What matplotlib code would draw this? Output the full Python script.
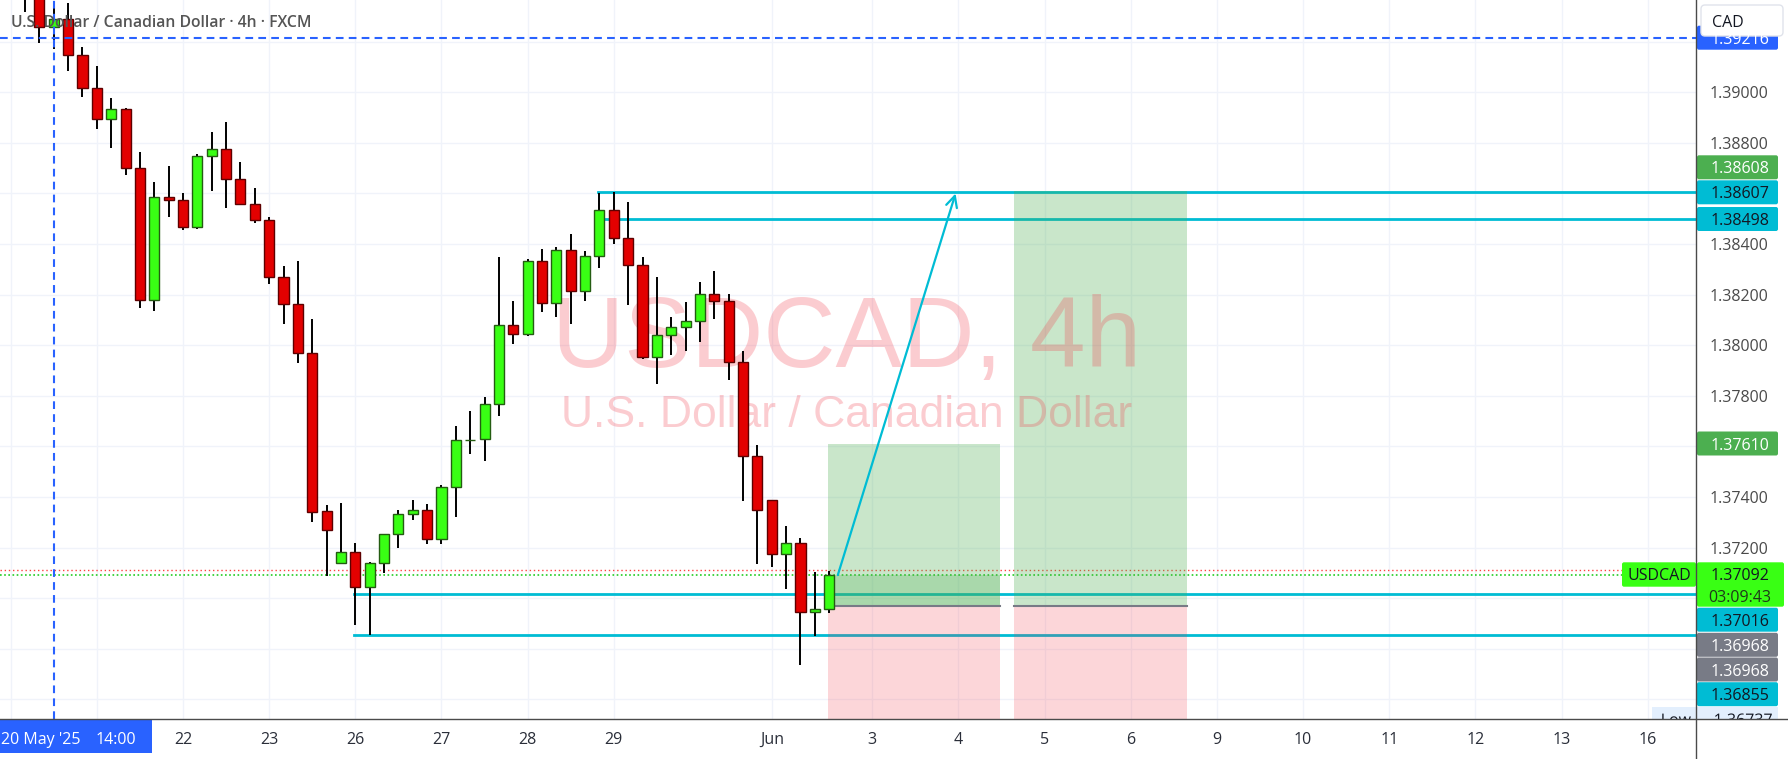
import numpy as np
import matplotlib
matplotlib.use('Agg')
import matplotlib.pyplot as plt
import matplotlib.patches as mpatches
from matplotlib.transforms import Bbox, TransformedBbox, Affine2D
from matplotlib.textpath import TextPath
from matplotlib.font_manager import FontProperties

W, H = 1788, 759
plt.rcParams['font.family'] = ['Open Sans', 'DejaVu Sans']

# 4h bars, index 0 = first bar of 22 May 2025
bars = list(range(-11, 46))
opens = [1.39520, 1.39400, 1.39257, 1.39289, 1.39146, 1.39016, 1.38893, 1.38933, 1.38700, 1.38178,
         1.38585, 1.38573, 1.38466, 1.38747, 1.38775, 1.38658, 1.38557, 1.38494, 1.38269, 1.38162,
         1.37968, 1.37344, 1.37138, 1.37182, 1.37043, 1.37138, 1.37253, 1.37332, 1.37348, 1.37233,
         1.37439, 1.37625, 1.37628, 1.37767, 1.38079, 1.38043, 1.38332, 1.38166, 1.38376, 1.38213,
         1.38352, 1.38534, 1.38423, 1.38316, 1.37953, 1.38040, 1.38071, 1.38095, 1.38202, 1.38174,
         1.37933, 1.37561, 1.37387, 1.37174, 1.37217, 1.36945, 1.36957]
highs = [1.39580, 1.39450, 1.39345, 1.39352, 1.39178, 1.39104, 1.38977, 1.38938, 1.38763, 1.38645,
         1.38709, 1.38601, 1.38756, 1.38843, 1.38883, 1.38724, 1.38622, 1.38506, 1.38313, 1.38333,
         1.38104, 1.37369, 1.37377, 1.37219, 1.37144, 1.37256, 1.37349, 1.37389, 1.37373, 1.37447,
         1.37681, 1.37740, 1.37796, 1.38349, 1.38175, 1.38340, 1.38381, 1.38389, 1.38440, 1.38373,
         1.38600, 1.38607, 1.38566, 1.38349, 1.38270, 1.38113, 1.38171, 1.38250, 1.38294, 1.38202,
         1.37976, 1.37605, 1.37390, 1.37286, 1.37237, 1.37103, 1.37109]
lows = [1.39316, 1.39196, 1.39170, 1.39085, 1.38983, 1.38855, 1.38781, 1.38674, 1.38149, 1.38137,
        1.38508, 1.38457, 1.38461, 1.38611, 1.38544, 1.38553, 1.38485, 1.38243, 1.38085, 1.37931,
        1.37303, 1.37089, 1.37136, 1.36894, 1.36856, 1.37101, 1.37197, 1.37311, 1.37216, 1.37216,
        1.37322, 1.37572, 1.37544, 1.37722, 1.38006, 1.38038, 1.38133, 1.38113, 1.38085, 1.38176,
        1.38307, 1.38402, 1.38160, 1.37946, 1.37846, 1.37963, 1.37979, 1.38014, 1.38105, 1.37862,
        1.37386, 1.37137, 1.37125, 1.37038, 1.36737, 1.36852, 1.36941]
closes = [1.39400, 1.39257, 1.39289, 1.39146, 1.39016, 1.38893, 1.38933, 1.38700, 1.38178, 1.38585,
          1.38573, 1.38466, 1.38747, 1.38775, 1.38658, 1.38557, 1.38494, 1.38269, 1.38162, 1.37968,
          1.37342, 1.37269, 1.37182, 1.37043, 1.37138, 1.37253, 1.37332, 1.37348, 1.37233, 1.37439,
          1.37625, 1.37627, 1.37767, 1.38079, 1.38043, 1.38332, 1.38166, 1.38376, 1.38213, 1.38352,
          1.38534, 1.38423, 1.38316, 1.37953, 1.38040, 1.38071, 1.38095, 1.38202, 1.38174, 1.37933,
          1.37561, 1.37348, 1.37174, 1.37217, 1.36945, 1.36957, 1.37092]

day_ticks = [0, 6, 12, 18, 24, 30, 41, 48, 54, 60, 66, 72, 78, 84, 90, 96, 102]
day_labels = ['22', '23', '26', '27', '28', '29', 'Jun', '3', '4', '5', '6', '9', '10', '11', '12', '13', '16']
day_grid = [-12, -6] + day_ticks
price_ticks = [1.39, 1.388, 1.384, 1.382, 1.38, 1.378, 1.374, 1.372]
price_grid = np.arange(1.364, 1.3945, 0.002)

# drawings
top_levels = [1.38607, 1.38498]      # from bar 29
bottom_levels = [1.37016, 1.36855]   # from bar 12
top_from, bottom_from = 28.9, 11.9
last_price = 1.37092
ask_price = 1.37112
low_price = 1.36737
cross_bar, cross_price = -9, 1.39216
entry = 1.36968
stop = 1.3630
target1, target2 = 1.37610, 1.38608
pos1 = (44.9, 56.9)
pos2 = (57.9, 69.95)
arrow_from = (45.6, last_price)
arrow_to = (53.8, 1.38600)

GREEN, RED = '#39ff14', '#e30000'
CYAN, TGREEN, GRAY, BLUE = '#00bcd4', '#4caf50', '#787b86', '#2962ff'

fig = plt.figure(figsize=(W / 100, H / 100), dpi=100)
fig.patch.set_facecolor('white')
ax = fig.add_axes([0, 40 / H, 1696 / W, 719 / H])
ax.set_xlim(-12.744, 105.362)
ax.set_ylim(1.365229, 1.393648)
for s in ax.spines.values():
    s.set_visible(False)

for g in price_grid:
    ax.axhline(g, color='#f0f3fa', lw=1, zorder=0)
for g in day_grid:
    ax.axvline(g, color='#f0f3fa', lw=1, zorder=0)

ax.yaxis.tick_right()
ax.set_yticks(price_ticks)
ax.set_yticklabels([f'{p:.5f}' for p in price_ticks])
ax.tick_params(axis='y', length=0, pad=9.4, labelsize=11.5, labelcolor='#4a4a4a')
ax.set_xticks(day_ticks)
ax.set_xticklabels(day_labels)
ax.tick_params(axis='x', length=0, pad=9.5, labelsize=11.5, labelcolor='#2a2e39')

# horizontal levels
xr = ax.get_xlim()[1]
for lv in top_levels:
    ax.plot([top_from, xr], [lv, lv], color=CYAN, lw=2, zorder=2)
for lv in bottom_levels:
    ax.plot([bottom_from, xr], [lv, lv], color=CYAN, lw=2, zorder=2)
ax.plot([ax.get_xlim()[0], 100.2], [ask_price] * 2, color='#ff4040', lw=1, ls=(0, (1, 2)), zorder=2)
ax.plot([ax.get_xlim()[0], 100.2], [last_price] * 2, color='#22cc22', lw=1.2, ls=(0, (1, 1.5)), zorder=2)

# long position tools
for (x0, x1), tgt in [(pos1, target1), (pos2, target2)]:
    ax.add_patch(mpatches.Rectangle((x0, entry), x1 - x0, tgt - entry, facecolor=TGREEN,
                                    alpha=0.3, edgecolor='none', zorder=3))
    ax.add_patch(mpatches.Rectangle((x0, stop), x1 - x0, entry - stop, facecolor='#f23645',
                                    alpha=0.2, edgecolor='none', zorder=3))
    ax.plot([x0, x1], [entry, entry], color=GRAY, lw=1.5, zorder=3.2)
ax.add_patch(mpatches.Rectangle((pos1[0], entry), pos1[1] - pos1[0], last_price - entry,
                                facecolor=TGREEN, alpha=0.25, edgecolor='none', zorder=3.1))

# watermark
ax.text(847 / W, 1 - 366.7 / H, 'USDCAD, 4h', transform=fig.transFigure, ha='center',
        va='baseline', fontsize=72, family='Liberation Sans', color='#f23645', alpha=0.25, zorder=3.5)
ax.text(847 / W, 1 - 426.7 / H, 'U.S. Dollar / Canadian Dollar', transform=fig.transFigure,
        ha='center', va='baseline', fontsize=32, family='Liberation Sans', color='#f23645',
        alpha=0.25, zorder=3.5)

# candles
o, h, l, c = map(np.array, (opens, highs, lows, closes))
x = np.array(bars)
up = c >= o
ax.vlines(x, l, h, color='black', lw=1.4, zorder=4)
ax.bar(x[up], np.maximum(c[up] - o[up], 0.00001), bottom=o[up], width=0.7, color=GREEN,
       edgecolor='#245c12', lw=1, zorder=5)
ax.bar(x[~up], o[~up] - c[~up], bottom=c[~up], width=0.7, color=RED,
       edgecolor='#5e0000', lw=1, zorder=5)

# crosshair
ax.axvline(cross_bar, color=BLUE, lw=1.5, ls=(0, (3.7, 2.5)), zorder=6)
ax.axhline(cross_price, color=BLUE, lw=1.5, ls=(0, (3.7, 2.5)), zorder=6)

ax.annotate('', xy=arrow_to, xytext=arrow_from,
            arrowprops=dict(arrowstyle='->,head_length=0.8,head_width=0.4', color=CYAN, lw=1.6,
                            shrinkA=0, shrinkB=0), zorder=6)

# overlay in pixel units for the scales' labels
ov = fig.add_axes([0, 0, 1, 1], zorder=10)
ov.set_xlim(0, W)
ov.set_ylim(H, 0)
ov.axis('off')
ov.patch.set_alpha(0)

ov.text(11, 26.7, 'U.S. Dollar / Canadian Dollar \u00b7 4h \u00b7 FXCM', fontsize=11.3,
        fontweight='semibold', color='#555555', va='baseline', ha='left')


def tag(yc, text, face, tc, x0=1697, x1=1778, hgt=24):
    ov.add_patch(mpatches.FancyBboxPatch((x0, yc - hgt / 2), x1 - x0, hgt,
                                         boxstyle='round,pad=0,rounding_size=2', facecolor=face,
                                         edgecolor='none'))
    ov.text((x0 + x1) / 2 + 2, yc, text, fontsize=11.5, color=tc, ha='center',
            va='center_baseline')


tag(37.7, f'{cross_price:.5f}', BLUE, 'white')
tag(167.3, f'{target2:.5f}', TGREEN, 'white')
tag(192.3, f'{top_levels[0]:.5f}', CYAN, '#131722')
tag(219.0, f'{top_levels[1]:.5f}', CYAN, '#131722')
tag(443.5, f'{target1:.5f}', TGREEN, 'white')
tag(619.7, f'{bottom_levels[0]:.5f}', CYAN, '#131722')
tag(644.8, f'{entry:.5f}', GRAY, 'white')
tag(669.5, f'{entry:.5f}', GRAY, 'white')
tag(694.2, f'{bottom_levels[1]:.5f}', CYAN, '#131722')

# current price
ov.add_patch(mpatches.FancyBboxPatch((1622, 562.3), 74, 24.4, boxstyle='round,pad=0,rounding_size=2',
                                     facecolor=GREEN, edgecolor='none'))
ov.text(1659, 574.5, 'USDCAD', fontsize=11.5, color='#131722', ha='center', va='center_baseline')
ov.add_patch(mpatches.FancyBboxPatch((1697, 562.3), 87, 44.4, boxstyle='round,pad=0,rounding_size=2',
                                     facecolor=GREEN, edgecolor='none'))
ov.text(1740, 574.3, f'{last_price:.5f}', fontsize=11.5, color='#131722', ha='center',
        va='center_baseline')
ov.text(1740, 595.5, '03:09:43', fontsize=11.5, color='#1e3a1a', ha='center', va='center_baseline')

# low label, cut by the time scale (text as paths so it can be clipped)
clip = TransformedBbox(Bbox([[1500, 719], [W, 0]]), ov.transData)
low_parts = [ov.add_patch(mpatches.Rectangle((1652, 707.3), 126, 24, facecolor='#e3effd',
                                             edgecolor='none'))]
fp = FontProperties(family='Open Sans')
for xc, s in [(1675, 'Low'), (1742, f'{low_price:.5f}')]:
    tp = TextPath((0, 0), s, size=15.97, prop=fp)
    wdt = tp.get_extents().width
    tr = Affine2D().scale(1, -1).translate(xc - wdt / 2, 725.0) + ov.transData
    low_parts.append(ov.add_patch(mpatches.PathPatch(tp, transform=tr, facecolor='#131722',
                                                     edgecolor='none')))
for a in low_parts:
    a.set_clip_path(None)
    a.set_clip_box(clip)
    a.set_clip_on(True)

# currency box
ov.add_patch(mpatches.FancyBboxPatch((1701, 5), 82, 31, boxstyle='round,pad=0,rounding_size=4',
                                     facecolor='white', edgecolor='#e0e3eb', lw=1))
ov.text(1712, 20.7, 'CAD', fontsize=11.5, color='#131722', ha='left', va='center_baseline')

# time crosshair label
ov.add_patch(mpatches.Rectangle((0, 719.5), 152, 33.5, facecolor=BLUE, edgecolor='none'))
ov.text(1, 737.5, "20 May '25", fontsize=11.5, color='white', ha='left', va='center_baseline')
ov.text(96, 737.5, '14:00', fontsize=11.5, color='white', ha='left', va='center_baseline')

# scale borders
ov.plot([0, W], [719, 719], color='#4a4a4a', lw=1)
ov.plot([1696, 1696], [0, H], color='#4a4a4a', lw=1)

fig.savefig('out.png', dpi=100, facecolor='white')
